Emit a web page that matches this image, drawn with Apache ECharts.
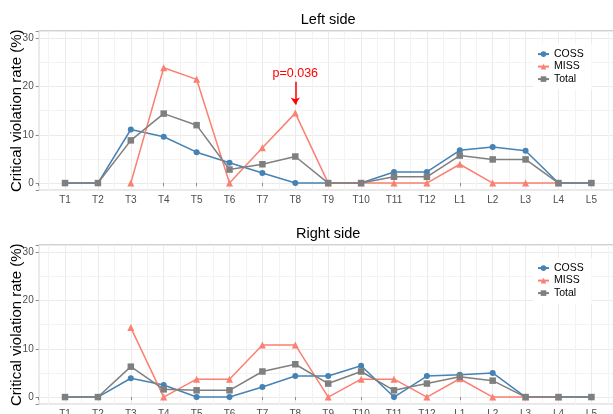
<!DOCTYPE html>
<html>
<head>
<meta charset="utf-8">
<script src="https://cdn.jsdelivr.net/npm/echarts@6/dist/echarts.min.js"></script>
<style>
html,body{margin:0;padding:0;background:#fff;}
#c{width:613px;height:414px;}
</style>
</head>
<body>
<div id="c"></div>
<script>
// ---- data ----
const categories = ['T1','T2','T3','T4','T5','T6','T7','T8','T9','T10','T11','T12','L1','L2','L3','L4','L5'];
const panelTitles = ['Left side', 'Right side'];
const seriesNames = ['COSS', 'MISS', 'Total'];

const leftCOSS  = [0, 0, 11.1, 9.6, 6.4, 4.2, 2.1, 0, 0, 0, 2.3, 2.3, 6.8, 7.5, 6.7, 0, 0];
const leftMISS  = [null, null, 0, 23.9, 21.5, 0, 7.3, 14.5, 0, 0, 0, 0, 3.9, 0, 0, 0, null];
const leftTotal = [0, 0, 8.85, 14.4, 12.0, 2.8, 3.9, 5.5, 0, 0, 1.3, 1.3, 5.7, 4.9, 4.9, 0, 0];

const rightCOSS  = [0, 0, 3.9, 2.5, 0, 0, 2.1, 4.35, 4.35, 6.5, 0, 4.35, 4.6, 5.0, 0, 0, 0];
const rightMISS  = [null, null, 14.4, 0, 3.7, 3.7, 10.8, 10.8, 0, 3.7, 3.7, 0, 3.8, 0, 0, 0, null];
const rightTotal = [0, 0, 6.3, 1.6, 1.4, 1.4, 5.3, 6.8, 2.8, 5.3, 1.4, 2.8, 4.2, 3.4, 0, 0, 0];

const yTicks = [0, 10, 20, 30];
const annotText = 'p=0.036';
const annotCategory = 'T8';
const annotArrow = [21.0, 16.3];   // arrow from/to (y values)
const annotLabelY = 22.8;

// ---- styling ----
const FONT = "'Liberation Sans', Arial, sans-serif";
const colors = {COSS: '#4682B4', MISS: '#FA8072', Total: '#7F7F7F'};
const symbols = {COSS: 'circle', MISS: 'triangle', Total: 'rect'};
const symSizes = {COSS: 6, MISS: 7, Total: 6.5};

const panels = [
  {top: 31.1, data: {COSS: leftCOSS, MISS: leftMISS, Total: leftTotal}},
  {top: 245.1, data: {COSS: rightCOSS, MISS: rightMISS, Total: rightTotal}}
];
const gridLeft = 38.7, gridWidth = 579, gridHeight = 159.2;

const toPairs = arr => arr.map((v, i) => [i + 1, v == null ? null : v]);

const grids = [], xAxes = [], yAxes = [], series = [], titles = [], legends = [];
panels.forEach((p, pi) => {
  grids.push({left: gridLeft, top: p.top, width: gridWidth, height: gridHeight,
    show: true, borderColor: '#8a8a8a', borderWidth: 1, backgroundColor: '#fff',
    containLabel: false, outerBoundsMode: 'none'});
  xAxes.push({
    type: 'value', gridIndex: pi, min: 0.2, max: 17.8, minInterval: 1, maxInterval: 1,
    axisLine: {show: false},
    axisTick: {show: true, length: 3, lineStyle: {color: '#8a8a8a', width: 1}},
    axisLabel: {
      color: '#4d4d4d', fontSize: 10, fontFamily: FONT, margin: 5,
      formatter: v => { const r = Math.round(v); return Math.abs(v - r) < 1e-6 && r >= 1 && r <= categories.length ? categories[r - 1] : ''; }
    },
    splitLine: {show: true, lineStyle: {color: '#ebebeb', width: 1}},
    minorTick: {show: false, splitNumber: 2},
    minorSplitLine: {show: true, lineStyle: {color: '#f3f3f3', width: 1}}
  });
  yAxes.push({
    type: 'value', gridIndex: pi, min: -1.5, max: 31.5, minInterval: 10, maxInterval: 10,
    name: 'Critical violation rate (%)', nameLocation: 'middle', nameGap: 14,
    nameMoveOverlap: false,
    nameTextStyle: {fontSize: 15, color: '#000', fontFamily: FONT},
    axisLine: {show: false},
    axisTick: {show: true, length: 3, lineStyle: {color: '#8a8a8a', width: 1}},
    axisLabel: {
      color: '#4d4d4d', fontSize: 10, fontFamily: FONT, margin: 5,
      formatter: v => yTicks.indexOf(Math.round(v * 1000) / 1000) >= 0 ? String(v) : ''
    },
    splitLine: {show: true, lineStyle: {color: '#ebebeb', width: 1}},
    minorTick: {show: false, splitNumber: 2},
    minorSplitLine: {show: true, lineStyle: {color: '#f3f3f3', width: 1}}
  });
  titles.push({text: panelTitles[pi], left: gridLeft + gridWidth / 2, top: p.top - 19, padding: 0,
    textAlign: 'center',
    textStyle: {fontSize: 14.5, fontWeight: 'normal', color: '#000', fontFamily: FONT}});
  legends.push({
    show: true, data: seriesNames, orient: 'vertical', left: 533, top: p.top + 12.5,
    padding: [5, 8, 5, 4], backgroundColor: '#fff',
    itemWidth: 11, itemHeight: 7, itemGap: 1.5,
    textStyle: {fontSize: 10.5, color: '#000', fontFamily: FONT, lineHeight: 11},
    selectedMode: false
  });
  seriesNames.forEach(name => {
    const s = {
      name: name, type: 'line', xAxisIndex: pi, yAxisIndex: pi,
      data: toPairs(p.data[name]), connectNulls: false,
      symbol: symbols[name], symbolSize: symSizes[name], showSymbol: true,
      lineStyle: {color: colors[name], width: 1.5},
      itemStyle: {color: colors[name]},
      animation: false, z: 2
    };
    if (pi === 0 && name === 'MISS') {
      const xi = categories.indexOf(annotCategory) + 1;
      s.markLine = {
        silent: true, symbol: ['none', 'arrow'], symbolSize: 7, animation: false,
        lineStyle: {color: '#ff0000', type: 'solid', width: 1.5},
        label: {show: false},
        data: [[{coord: [xi, annotArrow[0]]}, {coord: [xi, annotArrow[1]]}]]
      };
      s.markPoint = {
        silent: true, animation: false, symbol: 'circle', symbolSize: 0,
        label: {show: true, position: 'inside', formatter: annotText, color: '#ff0000', fontSize: 12.5, fontFamily: FONT},
        data: [{coord: [xi, annotLabelY]}]
      };
    }
    series.push(s);
  });
});

const chart = echarts.init(document.getElementById('c'), null, {renderer: 'canvas'});
chart.setOption({
  animation: false,
  backgroundColor: '#fff',
  textStyle: {fontFamily: FONT},
  title: titles,
  legend: legends,
  grid: grids,
  xAxis: xAxes,
  yAxis: yAxes,
  series: series
});
</script>
</body>
</html>
